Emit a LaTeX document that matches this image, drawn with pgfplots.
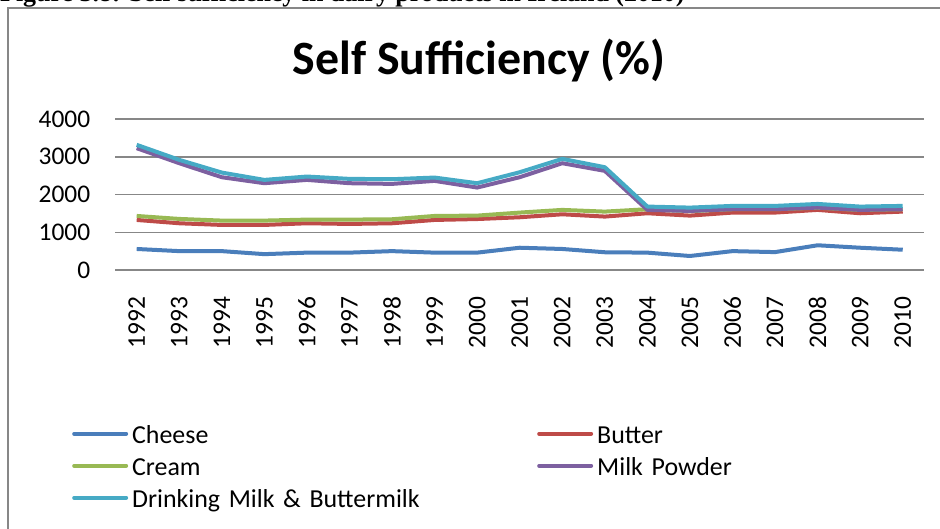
\documentclass[border=0pt]{standalone}
\usepackage{fontspec}
\setmainfont{Carlito}
\newfontfamily\capfont{Liberation Serif}
\usepackage{pgfplots}
\usepackage{pgfplotstable}
\pgfplotsset{compat=1.18}

\definecolor{cheese}{HTML}{4A7EBB}
\definecolor{butter}{HTML}{BE4B48}
\definecolor{cream}{HTML}{98B954}
\definecolor{powder}{HTML}{7D60A0}
\definecolor{drink}{HTML}{46AAC5}
\definecolor{gridgray}{HTML}{878787}

% year index 0 = 1992 ... 18 = 2010
\pgfplotstableread{
x cheese butter cream powder drink
0  557 1326 1432 3227 3316
1  500 1238 1353 2829 2918
2  500 1194 1309 2458 2581
3  420 1194 1309 2299 2387
4  460 1238 1335 2387 2476
5  460 1220 1335 2299 2414
6  500 1238 1344 2281 2405
7  460 1326 1432 2361 2449
8  460 1350 1441 2184 2299
9  590 1397 1521 2458 2590
10 557 1476 1592 2829 2944
11 470 1415 1547 2626 2723
12 460 1503 1610 1592 1680
13 371 1441 1560 1565 1653
14 500 1521 1610 1610 1698
15 474 1521 1610 1610 1698
16 655 1592 1650 1653 1750
17 590 1503 1590 1592 1680
18 537 1547 1610 1610 1698
}\selfsuff

\begin{document}
\begin{tikzpicture}
% page = 940 x 529 px, origin at lower left of the plot area (px 115.4, 270)
\path[use as bounding box] (-115.4bp,-259bp) rectangle (824.6bp,270bp);
\node[anchor=base west, inner sep=0pt, font=\capfont\bfseries\fontsize{26}{30}\selectfont]
  at (-115.4bp,268.5bp) {Figure 3.8: Self sufficiency in dairy products in Ireland (2010)};
\draw[gridgray, line width=1.5bp] (-107.4bp,-270bp) -- (-107.4bp,262bp) -- (830bp,262bp);
\node[anchor=base, inner sep=0pt, font=\bfseries\fontsize{48}{52}\selectfont]
  at (363.6bp,195bp) {Self Sufficiency (\%)};
\begin{axis}[
  at={(0,0)}, anchor=south west,
  scale only axis, width=808.6bp, height=151bp,
  xmin=-0.5, xmax=18.5, ymin=0, ymax=4000,
  xtick={0,...,18},
  xticklabels={1992,1993,1994,1995,1996,1997,1998,1999,2000,2001,2002,2003,2004,2005,2006,2007,2008,2009,2010},
  ytick={0,1000,2000,3000,4000},
  yticklabels={0,1000,2000,3000,4000},
  ticklabel style={font=\fontsize{25.5}{30}\selectfont, inner sep=0pt},
  yticklabel style={anchor=east, xshift=-25bp},
  xticklabel style={rotate=90, anchor=east},
  xticklabel shift=26.5bp,
  axis line style={draw=none},
  tick style={draw=none},
  ymajorgrids,
  major grid style={gridgray, line width=1.5bp},
  clip=false,
  legend columns=2,
  legend cell align=left,
  legend image code/.code={\draw[#1, line width=4bp, line cap=round] (2bp,3bp) -- (54bp,3bp);},
  legend style={at={(-0.0537,-1.0199)}, anchor=north west, draw=none, fill=none,
    inner sep=0pt, row sep=7bp, column sep=0bp,
    font=\fontsize{26}{30}\selectfont,
    nodes={inner sep=0pt, text height=19bp, text depth=6bp, text width=405bp, align=left},
    /tikz/every odd column/.append style={column sep=4bp}},
  every axis plot/.append style={line width=4bp, line join=round},
]
\addplot[cheese] table[x=x, y=cheese] {\selfsuff};
\addlegendentry{Cheese}
\addplot[butter] table[x=x, y=butter] {\selfsuff};
\addlegendentry{Butter}
\addplot[cream] table[x=x, y=cream] {\selfsuff};
\addlegendentry{Cream}
\addplot[powder] table[x=x, y=powder] {\selfsuff};
\addlegendentry{Milk Powder}
\addplot[drink] table[x=x, y=drink] {\selfsuff};
\addlegendentry{Drinking Milk \& Buttermilk}
\end{axis}
\end{tikzpicture}
\end{document}
